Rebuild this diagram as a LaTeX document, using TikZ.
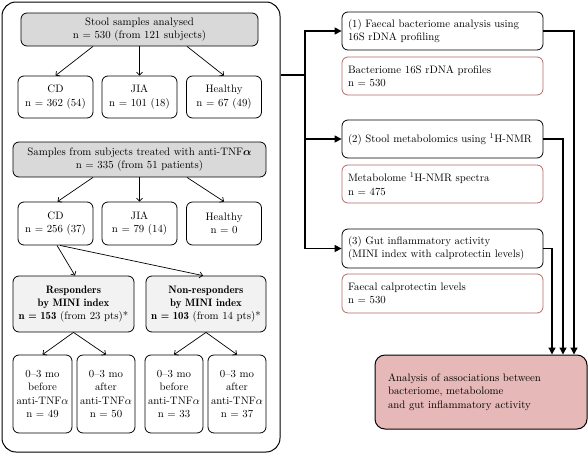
\documentclass[tikz,border=0pt]{standalone}
\usepackage{bm}
\usetikzlibrary{arrows.meta,calc}
\definecolor{greyfill}{HTML}{D9D9D9}
\definecolor{lightfill}{HTML}{F2F2F2}
\definecolor{redline}{HTML}{B56A6A}
\definecolor{pinkfill}{HTML}{E6B9B8}
\newcommand{\demib}[1]{{\fontseries{b}\selectfont #1}}
\tikzset{
  box/.style={draw, rounded corners=6pt, line width=0.8pt, inner sep=0pt, align=center, font=\fontsize{10.8}{13.3}\selectfont},
  lbox/.style={draw, rounded corners=6pt, line width=0.8pt, inner xsep=6pt, inner ysep=0pt, align=left, font=\fontsize{10.8}{13.3}\selectfont},
  rbox/.style={lbox, draw=redline},
  arr/.style={-{Straight Barb[length=3pt,width=6pt]}, line width=0.7pt},
  arrR/.style={-{Triangle[length=7pt,width=7pt]}, line width=1.3pt},
  conn/.style={line width=1.3pt}
}
\begin{document}
\begin{tikzpicture}[x=1pt,y=-1pt]
\useasboundingbox (0,0) rectangle (588,455);
% left panel
\node[draw, rounded corners=14pt, line width=1pt, minimum width=278pt, minimum height=450pt, inner sep=0pt] (panel) at (141,227) {};
\node[box, fill=greyfill, minimum width=237pt, minimum height=33pt] (top) at (139.5,29.5) {Stool samples analysed\\n = 530 (from 121 subjects)};
\node[box, minimum width=75pt, minimum height=42pt] (cda) at (55.5,97) {CD\\n = 362 (54)};
\node[box, minimum width=75pt, minimum height=42pt] (jiaa) at (139.5,97) {JIA\\n = 101 (18)};
\node[box, minimum width=75pt, minimum height=42pt] (hea) at (224,97) {Healthy\\n = 67 (49)};
\node[box, fill=greyfill, minimum width=253pt, minimum height=35pt] (tnf) at (139.5,159.5) {Samples from subjects treated with anti-TNF$\bm{\alpha}$\\n = 335 (from 51 patients)};
\node[box, minimum width=75pt, minimum height=43pt] (cdb) at (55.5,223.5) {CD\\n = 256 (37)};
\node[box, minimum width=75pt, minimum height=43pt] (jiab) at (139.5,223.5) {JIA\\n = 79 (14)};
\node[box, minimum width=75pt, minimum height=43pt] (heb) at (224,223.5) {Healthy\\n = 0};
\node[box, fill=lightfill, minimum width=121pt, minimum height=56pt] (resp) at (73.5,304) {\demib{Responders}\\\demib{by MINI index}\\\demib{n = 153} (from 23 pts)*};
\node[box, fill=lightfill, minimum width=120pt, minimum height=56pt] (nonr) at (206,304) {\demib{Non-responders}\\\demib{by MINI index}\\\demib{n = 103} (from 14 pts)*};
\node[box, minimum width=59pt, minimum height=78pt] (ba) at (42.5,394) {0--3 mo\\before\\anti-TNF$\alpha$\\n = 49};
\node[box, minimum width=58pt, minimum height=78pt] (bb) at (106,394) {0--3 mo\\after\\anti-TNF$\alpha$\\n = 50};
\node[box, minimum width=58pt, minimum height=78pt] (bc) at (174,394) {0--3 mo\\before\\anti-TNF$\alpha$\\n = 33};
\node[box, minimum width=58pt, minimum height=78pt] (bd) at (237,394) {0--3 mo\\after\\anti-TNF$\alpha$\\n = 37};
% left arrows
\draw[arr] ([xshift=-46.5pt]top.south) -- (cda.north);
\draw[arr] (top.south) -- (jiaa.north);
\draw[arr] ([xshift=47.5pt]top.south) -- (hea.north);
\draw[arr] ([xshift=-46.5pt]tnf.south) -- ([xshift=2pt]cdb.north);
\draw[arr] (tnf.south) -- (jiab.north);
\draw[arr] ([xshift=47.5pt]tnf.south) -- (heb.north);
\draw[arr] ([xshift=1.5pt]cdb.south) -- ([xshift=1.5pt]resp.north);
\draw[arr] ([xshift=4.5pt]cdb.south) -- ([xshift=-3pt]nonr.north);
\draw[arr] (resp.south) -- (ba.north);
\draw[arr] (resp.south) -- (bb.north);
\draw[arr] (nonr.south) -- (bc.north);
\draw[arr] (nonr.south) -- (bd.north);
% right column
\node[lbox, text width=189pt, minimum height=38pt] (ra) at (442.5,31) {(1) Faecal bacteriome analysis using\\16S rDNA profiling};
\node[rbox, text width=189pt, minimum height=38pt] (da) at (442.5,76) {Bacteriome 16S rDNA profiles\\n = 530};
\node[lbox, text width=189pt, minimum height=38pt] (rb) at (442.5,139) {(2) Stool metabolomics using \textsuperscript{1}H-NMR};
\node[rbox, text width=189pt, minimum height=38pt] (db) at (442.5,184) {Metabolome \textsuperscript{1}H-NMR spectra\\n = 475};
\node[lbox, text width=189pt, minimum height=39pt] (rc) at (442.5,248.5) {(3) Gut inflammatory activity\\(MINI index with calprotectin levels)};
\node[rbox, text width=189pt, minimum height=39pt] (dc) at (442.5,293.5) {Faecal calprotectin levels\\n = 530};
\node[draw, rounded corners=10pt, line width=1pt, fill=pinkfill, inner xsep=13pt, inner ysep=0pt, text width=186pt, minimum height=74pt, align=left, font=\fontsize{10.8}{13.3}\selectfont] (fin) at (481,392) {Analysis of associations between\\bacteriome, metabolome\\and gut inflammatory activity};
% connectors
\coordinate (split) at (305,75);
\draw[conn] (panel.east |- split) -- (split);
\draw[arrR] (split) |- (ra.west);
\draw[arrR] (split) |- (rb.west);
\draw[arrR] (split) |- (rc.west);
\draw[arrR] (ra.east) -| ([xshift=93pt]fin.north);
\draw[arrR] (rb.east) -| ([xshift=82pt]fin.north);
\draw[arrR] (rc.east) -| ([xshift=71pt]fin.north);
\end{tikzpicture}
\end{document}
